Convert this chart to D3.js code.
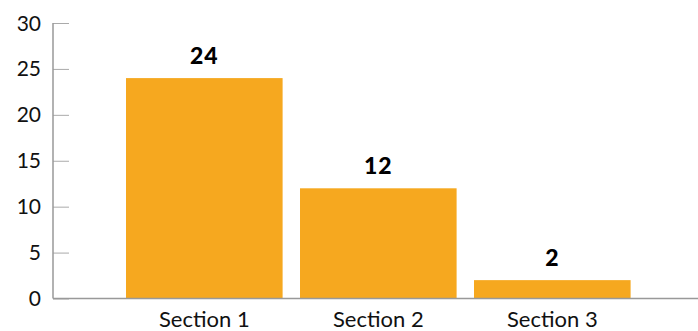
<!DOCTYPE html>
<html>
<head>
<meta charset="utf-8">
<script src="https://cdn.jsdelivr.net/npm/d3@7"></script>
<style>
  body { margin: 0; background: #fff; }
  svg text { font-family: Lato, "Open Sans", sans-serif; }
</style>
</head>
<body>
<div id="chart"></div>
<script>
var categories = ['Section 1', 'Section 2', 'Section 3'];
var values = [24, 12, 2];
var yTicks = [0, 5, 10, 15, 20, 25, 30];

var width = 698,
    height = 331;

var margin = { top: 23, right: 0, bottom: 32.5, left: 53 };

var svg = d3.select('#chart')
    .append('svg')
    .attr('width', width)
    .attr('height', height);

var x = d3.scaleBand()
    .domain(categories)
    .range([108.6, 648])
    .paddingInner(0.1)
    .paddingOuter(0.1);

var y = d3.scaleLinear()
    .domain([0, 30])
    .range([height - margin.bottom, margin.top]);

// y axis: ticks point into the plot
var yAxis = svg.append('g')
    .attr('transform', 'translate(' + margin.left + ',0)')
    .call(d3.axisRight(y).tickValues(yTicks).tickSize(16).tickFormat(''));
yAxis.select('.domain').remove();
yAxis.selectAll('.tick line').attr('stroke', '#aaa').attr('stroke-width', 1);

svg.append('line')
    .attr('x1', margin.left).attr('x2', margin.left)
    .attr('y1', y(30)).attr('y2', y(0))
    .attr('stroke', '#999').attr('stroke-width', 1.5);

svg.selectAll('.ylabel')
    .data(yTicks)
    .enter()
    .append('text')
    .attr('class', 'ylabel')
    .attr('x', 41)
    .attr('y', d => y(d))
    .attr('dy', '0.36em')
    .attr('text-anchor', 'end')
    .style('font-size', '21px')
    .attr('fill', '#111')
    .text(d => d);

svg.selectAll('.bar')
    .data(values)
    .enter()
    .append('rect')
    .attr('class', 'bar')
    .attr('x', (d, i) => x(categories[i]))
    .attr('y', d => y(d))
    .attr('width', x.bandwidth())
    .attr('height', d => y(0) - y(d))
    .attr('fill', '#F6A81F');

// baseline
svg.append('line')
    .attr('x1', margin.left).attr('x2', width)
    .attr('y1', y(0)).attr('y2', y(0))
    .attr('stroke', '#999').attr('stroke-width', 1.5);

svg.selectAll('.vlabel')
    .data(values)
    .enter()
    .append('text')
    .attr('class', 'vlabel')
    .attr('x', (d, i) => x(categories[i]) + x.bandwidth() / 2)
    .attr('y', d => y(d) - 14)
    .attr('text-anchor', 'middle')
    .style('font-size', '23px')
    .style('font-weight', 900)
    .style('letter-spacing', '1px')
    .attr('fill', '#000')
    .text(d => d);

svg.selectAll('.xlabel')
    .data(categories)
    .enter()
    .append('text')
    .attr('class', 'xlabel')
    .attr('x', d => x(d) + x.bandwidth() / 2)
    .attr('y', 327)
    .attr('text-anchor', 'middle')
    .style('font-size', '22px')
    .attr('fill', '#111')
    .text(d => d);
</script>
</body>
</html>
